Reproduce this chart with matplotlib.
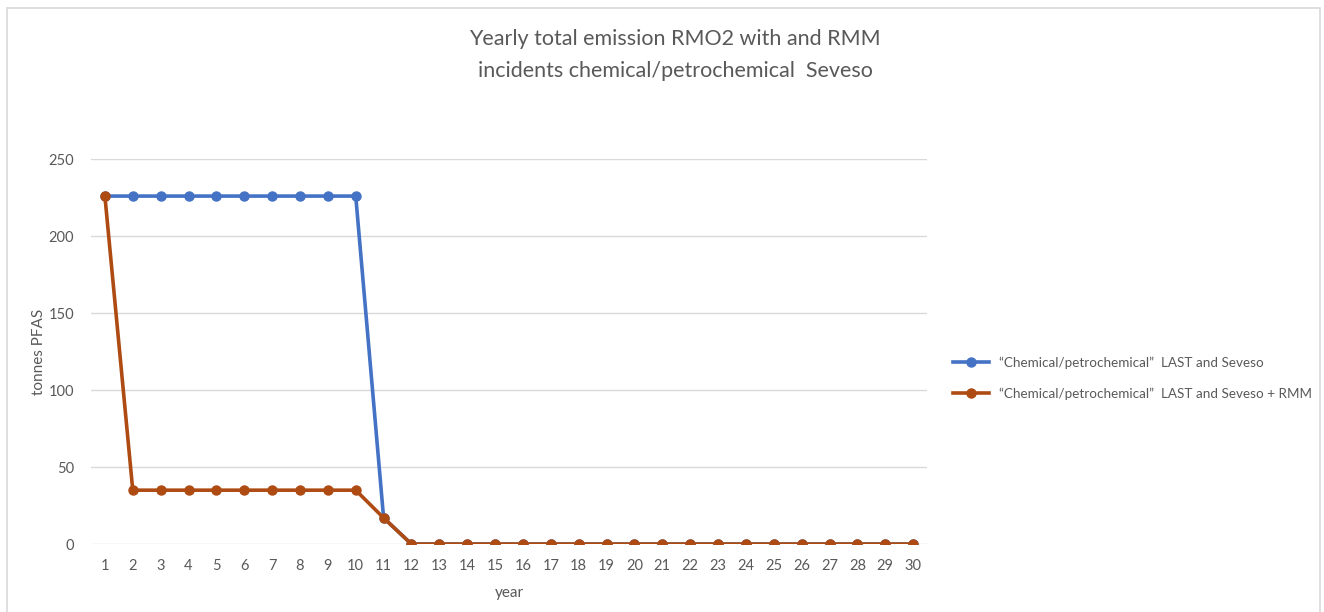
import matplotlib.pyplot as plt
from matplotlib.patches import Rectangle

plt.rcParams['font.family'] = ['Lato', 'DejaVu Sans']

years = list(range(1, 31))
# tonnes PFAS per year
last_seveso = [226] * 10 + [17] + [0] * 19
last_seveso_rmm = [226] + [35] * 9 + [17] + [0] * 19

blue = '#4472C4'
orange = '#AE4B12'
grey = '#595959'

fig = plt.figure(figsize=(13.24, 6.12), dpi=100)
ax = fig.add_axes([0.0687, 0.111, 0.6315, 0.629])

# light chart border
fig.patches.append(Rectangle((0.005, -0.01), 0.992, 0.997, transform=fig.transFigure,
                             fill=False, edgecolor='#D9D9D9', linewidth=1.2))

ax.plot(years, last_seveso, color=blue, linewidth=2.6, marker='o', markersize=6.5,
        label='\u201cChemical/petrochemical\u201d  LAST and Seveso', zorder=3)
ax.plot(years, last_seveso_rmm, color=orange, linewidth=2.6, marker='o', markersize=6.5,
        label='\u201cChemical/petrochemical\u201d  LAST and Seveso + RMM', zorder=4)

ax.set_xlim(0.5, 30.5)
ax.set_ylim(0, 250)
ax.set_yticks([0, 50, 100, 150, 200, 250])
ax.set_xticks(years)
ax.grid(axis='y', color='#D9D9D9', linewidth=1)
ax.set_axisbelow(True)
for s in ax.spines.values():
    s.set_visible(False)
ax.tick_params(length=0, labelsize=10.5, colors=grey, pad=11)
ax.tick_params(axis='y', pad=12)

ax.set_xlabel('year', fontsize=11, color=grey, labelpad=9)
ax.set_ylabel('tonnes PFAS', fontsize=11, color=grey, labelpad=2)

fig.text(0.51, 0.91, 'Yearly total emission RMO2 with and RMM\nincidents chemical/petrochemical  Seveso',
         ha='center', va='center', fontsize=15.5, color=grey, linespacing=1.75)

fig.legend(loc='center left', bbox_to_anchor=(0.711, 0.382), frameon=False,
           fontsize=9.7, labelcolor=grey, handlelength=2.6, labelspacing=1.35)

fig.savefig('out.png', dpi=100, facecolor='white')
